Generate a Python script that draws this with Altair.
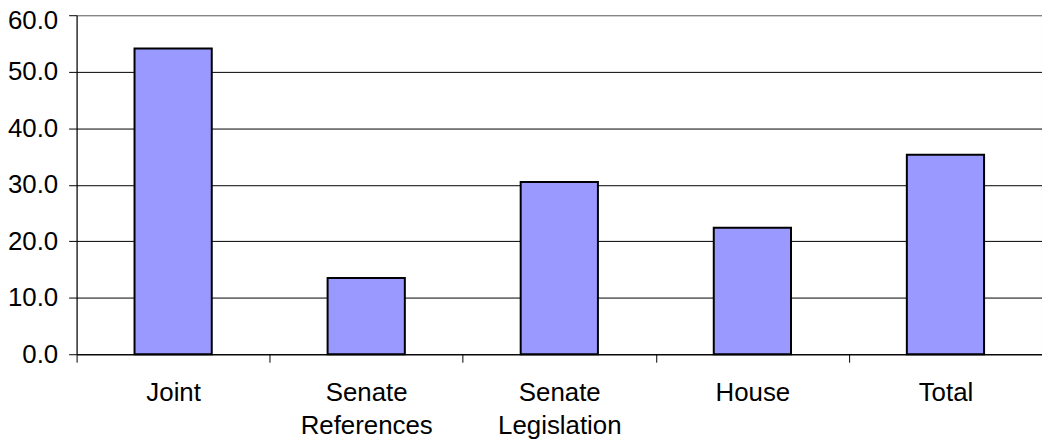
import altair as alt
import pandas as pd

categories = ["Joint", "Senate References", "Senate Legislation", "House", "Total"]
values = [54.1, 13.5, 30.5, 22.4, 35.3]
y_ticks = [0, 10, 20, 30, 40, 50, 60]

df = pd.DataFrame({"category": categories, "value": values})

FONT = "Liberation Sans"
FS = 26

chart = alt.Chart(df).mark_bar(
    color="#9999FF", stroke="black", strokeWidth=2,
    width=alt.RelativeBandSize(0.4),
).encode(
    x=alt.X(
        "category:N", sort=categories, title=None,
        scale=alt.Scale(paddingInner=0, paddingOuter=0),
        axis=alt.Axis(
            labelAngle=0, tickBand="extent",
            labelExpr="split(datum.label, ' ')",
            labelFont=FONT, labelFontSize=FS, labelColor="black",
            labelLineHeight=33, labelPadding=18, labelBaseline="top",
            tickSize=8, tickColor="black", tickWidth=1,
            domainColor="black", domainWidth=1, grid=False,
        ),
    ),
    y=alt.Y(
        "value:Q", title=None,
        scale=alt.Scale(domain=[0, 60], nice=False),
        axis=alt.Axis(
            values=y_ticks, format=".1f",
            labelFont=FONT, labelFontSize=FS, labelColor="black",
            labelPadding=11, labelFlush=False,
            labelOffset=alt.condition("datum.value == 60", alt.value(5), alt.value(0)),
            tickSize=8, tickColor="black", tickWidth=1,
            domainColor="black", domainWidth=1,
            grid=True, gridWidth=1,
            gridColor=alt.condition("datum.value == 60", alt.value("#808080"), alt.value("black")),
        ),
    ),
).properties(
    width=971, height=341,
    padding={"left": 69, "top": 6, "right": 0, "bottom": 86},
    autosize="none",
).configure_view(
    stroke="#808080", strokeWidth=1
)

chart.save("out.html", embed_options={"renderer": "svg", "actions": False})
